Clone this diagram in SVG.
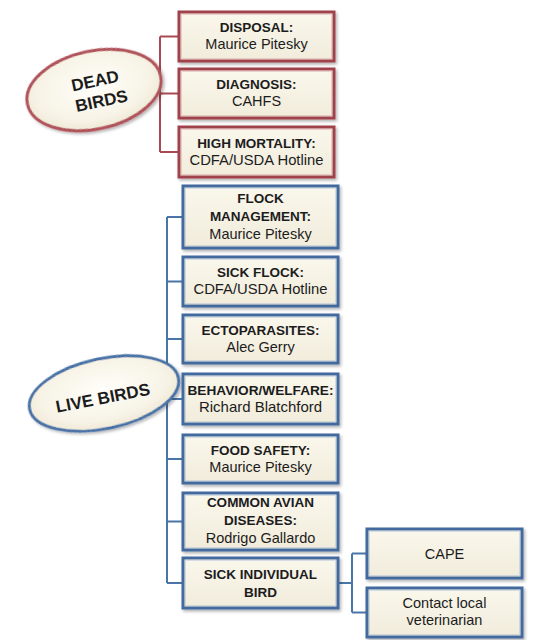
<svg xmlns="http://www.w3.org/2000/svg" width="557" height="640" viewBox="0 0 557 640">
<defs>
  <linearGradient id="boxFill" x1="0" y1="0" x2="0" y2="1">
    <stop offset="0" stop-color="#faf7ec"/>
    <stop offset="1" stop-color="#f1ecdb"/>
  </linearGradient>
  <radialGradient id="ellFill" cx="0.5" cy="0.45" r="0.6">
    <stop offset="0" stop-color="#fffefa"/>
    <stop offset="0.7" stop-color="#f7f3e6"/>
    <stop offset="1" stop-color="#ebe4cf"/>
  </radialGradient>
  <filter id="shadow" x="-10%" y="-10%" width="125%" height="130%">
    <feDropShadow dx="1.5" dy="2" stdDeviation="1.5" flood-color="#000" flood-opacity="0.3"/>
  </filter>
</defs>
<style>
  .box { fill: url(#boxFill); stroke-width: 3; filter: url(#shadow); }
  .red .box { stroke: #a0434b; }
  .blue .box { stroke: #436a9e; }
  .inner { fill: none; stroke-width: 1; stroke-opacity: 0.35; }
  .red .inner { stroke: #d08a90; }
  .blue .inner { stroke: #8fb0d8; }
  .ell { fill: url(#ellFill); stroke-width: 3; filter: url(#shadow); }
  text { font-family: "Liberation Sans", Arial, sans-serif; font-size: 14.5px; fill: #1c1c1c; text-anchor: middle; }
  .b { font-weight: bold; font-size: 13.5px; }
  .big { font-size: 17px; font-weight: bold; }
  .conR { fill: none; stroke: #a94a52; stroke-width: 2; }
  .conB { fill: none; stroke: #4a75a8; stroke-width: 2; }
</style>
<rect width="557" height="640" fill="#ffffff"/>

<g id="connectors">
  <path class="conR" d="M160,36.5 V152 M160,36.5 H179 M160,93.5 H179 M160,152 H179"/>
  <path class="conB" d="M167,217 V583 M167,217 H183 M167,281.5 H183 M167,339 H183 M167,399 H183 M167,459 H183 M167,521.5 H183 M167,583 H183"/>
  <path class="conB" d="M339,583 H352 M352,553.5 V612.5 M352,553.5 H367 M352,612.5 H367"/>
</g>

<g id="dead-birds" class="red">
  <ellipse class="ell" cx="94" cy="90" rx="68" ry="39" transform="rotate(-12 94 90)" stroke="#b0525a"/>
  <g transform="translate(94 90) rotate(-12)">
    <text class="big" x="3" y="-3">DEAD</text>
    <text class="big" x="5" y="18">BIRDS</text>
  </g>
</g>

<g id="disposal" class="red">
  <rect class="box" x="179" y="12" width="155" height="49"/>
  <rect class="inner" x="181.5" y="14.5" width="150" height="44"/>
  <text class="b" x="256.5" y="32">DISPOSAL:</text>
  <text x="256.5" y="49">Maurice Pitesky</text>
</g>
<g id="diagnosis" class="red">
  <rect class="box" x="179" y="69" width="155" height="49"/>
  <rect class="inner" x="181.5" y="71.5" width="150" height="44"/>
  <text class="b" x="256.5" y="89">DIAGNOSIS:</text>
  <text x="256.5" y="106">CAHFS</text>
</g>
<g id="high-mortality" class="red">
  <rect class="box" x="179" y="127" width="155" height="50"/>
  <rect class="inner" x="181.5" y="129.5" width="150" height="45"/>
  <text class="b" x="256.5" y="148">HIGH MORTALITY:</text>
  <text x="256.5" y="165" textLength="134" lengthAdjust="spacingAndGlyphs">CDFA/USDA Hotline</text>
</g>

<g id="live-birds" class="blue">
  <ellipse class="ell" cx="104" cy="393.5" rx="76" ry="35" transform="rotate(-12 104 393.5)" stroke="#4a72a6"/>
  <g transform="translate(104 393.5) rotate(-11)">
    <text class="big" x="-2" y="10">LIVE BIRDS</text>
  </g>
</g>

<g id="flock-management" class="blue">
  <rect class="box" x="183" y="186" width="155" height="62"/>
  <rect class="inner" x="185.5" y="188.5" width="150" height="57"/>
  <text class="b" x="260.5" y="203">FLOCK</text>
  <text class="b" x="260.5" y="221">MANAGEMENT:</text>
  <text x="260.5" y="239">Maurice Pitesky</text>
</g>
<g id="sick-flock" class="blue">
  <rect class="box" x="183" y="257" width="155" height="49"/>
  <rect class="inner" x="185.5" y="259.5" width="150" height="44"/>
  <text class="b" x="260.5" y="277">SICK FLOCK:</text>
  <text x="260.5" y="294" textLength="134" lengthAdjust="spacingAndGlyphs">CDFA/USDA Hotline</text>
</g>
<g id="ectoparasites" class="blue">
  <rect class="box" x="183" y="315" width="155" height="48"/>
  <rect class="inner" x="185.5" y="317.5" width="150" height="43"/>
  <text class="b" x="260.5" y="335">ECTOPARASITES:</text>
  <text x="260.5" y="352">Alec Gerry</text>
</g>
<g id="behavior-welfare" class="blue">
  <rect class="box" x="183" y="374" width="155" height="50"/>
  <rect class="inner" x="185.5" y="376.5" width="150" height="45"/>
  <text class="b" x="260.5" y="395" textLength="146" lengthAdjust="spacingAndGlyphs">BEHAVIOR/WELFARE:</text>
  <text x="260.5" y="412" textLength="123" lengthAdjust="spacingAndGlyphs">Richard Blatchford</text>
</g>
<g id="food-safety" class="blue">
  <rect class="box" x="183" y="435" width="155" height="48"/>
  <rect class="inner" x="185.5" y="437.5" width="150" height="43"/>
  <text class="b" x="260.5" y="455">FOOD SAFETY:</text>
  <text x="260.5" y="472">Maurice Pitesky</text>
</g>
<g id="common-avian-diseases" class="blue">
  <rect class="box" x="183" y="493" width="155" height="57"/>
  <rect class="inner" x="185.5" y="495.5" width="150" height="52"/>
  <text class="b" x="260.5" y="507">COMMON AVIAN</text>
  <text class="b" x="260.5" y="525">DISEASES:</text>
  <text x="260.5" y="543">Rodrigo Gallardo</text>
</g>
<g id="sick-individual-bird" class="blue">
  <rect class="box" x="183" y="558" width="155" height="50"/>
  <rect class="inner" x="185.5" y="560.5" width="150" height="45"/>
  <text class="b" x="260.5" y="579">SICK INDIVIDUAL</text>
  <text class="b" x="260.5" y="597">BIRD</text>
</g>
<g id="cape" class="blue">
  <rect class="box" x="367" y="529" width="155" height="49"/>
  <rect class="inner" x="369.5" y="531.5" width="150" height="44"/>
  <text x="444.5" y="559">CAPE</text>
</g>
<g id="contact-local-veterinarian" class="blue">
  <rect class="box" x="367" y="588" width="155" height="49"/>
  <rect class="inner" x="369.5" y="590.5" width="150" height="44"/>
  <text x="444.5" y="608">Contact local</text>
  <text x="444.5" y="625">veterinarian</text>
</g>
</svg>
